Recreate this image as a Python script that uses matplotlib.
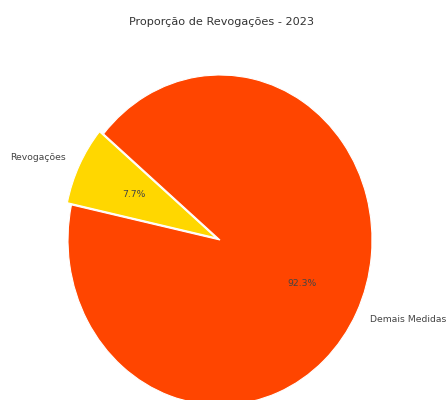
import matplotlib
matplotlib.use("Agg")
import matplotlib.pyplot as plt

labels = ["Revogações", "Demais Medidas"]
values = [7.7, 92.3]
colors = ["#FFD700", "#FF4500"]
explode = [0.03, 0]
title = "Proporção de Revogações - 2023"

fig = plt.figure(figsize=(4.48, 4.0), dpi=100)
ax = fig.add_axes([0, 0, 1, 1])
wedges, texts, autotexts = ax.pie(
    values, labels=labels, colors=colors, explode=explode,
    autopct="%1.1f%%", startangle=140,
    wedgeprops=dict(edgecolor="white", linewidth=0.8),
    textprops=dict(fontsize=6.7, color="#444444"),
)
ax.set_aspect("auto")
ax.set_xlim(-220 / 152, 228 / 152)
ax.set_ylim(-160 / 165, 240 / 165)
fig.text(221 / 448, 1 - 22 / 400, title, ha="center", va="center",
         fontsize=8.1, color="#333333")
fig.savefig("out.png", dpi=100)
